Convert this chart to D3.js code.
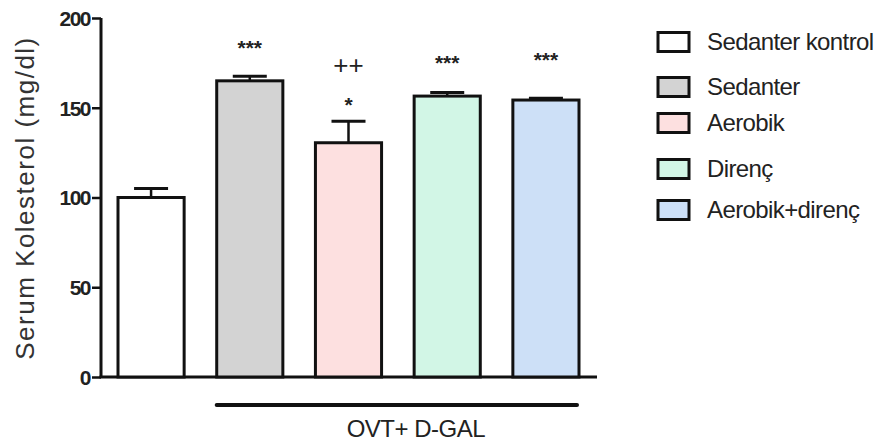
<!DOCTYPE html>
<html><head><meta charset="utf-8">
<script src="https://cdn.jsdelivr.net/npm/d3@7"></script>
<style>body{margin:0;background:#fff}svg{display:block}text{font-family:"Liberation Sans",Arial,sans-serif}</style>
</head><body><svg id="c" width="885" height="445"></svg>
<script>
const categories = ["Sedanter kontrol","Sedanter","Aerobik","Direnç","Aerobik+direnç"];
const means = [100, 165, 130.5, 156.5, 154.3];
const errors = [5, 2.5, 12, 2, 1];
const colors = ["#ffffff","#d3d3d3","#fde0e0","#d2f6e6","#cde0f7"];
const annotTop = ["", "***", "++", "***", "***"];
const annotLow = ["", "", "*", "", ""];
const yTicks = [0,50,100,150,200];
const groupLabel = "OVT+ D-GAL";
const yLabel = "Serum Kolesterol (mg/dl)";

const svg = d3.select("#c");
const x = d3.scaleBand().domain(categories).range([118, 579]).paddingInner(0.33).paddingOuter(0);
const y = d3.scaleLinear().domain([0,200]).range([377,18]);

// axes
const yAxis = d3.axisLeft(y).tickValues(yTicks).tickSize(9).tickPadding(2);
const gy = svg.append("g").attr("transform","translate(101,0)").call(yAxis);
gy.select(".domain").attr("stroke","#111").attr("stroke-width",3).attr("d","M0,"+y(0)+"V"+y(200));
gy.selectAll(".tick line").attr("stroke","#111").attr("stroke-width",2.5);
gy.selectAll(".tick text").attr("font-size",21).attr("font-weight","bold").attr("fill","#222").attr("font-family","Liberation Sans, Arial, sans-serif").attr("letter-spacing","-1.5").attr("dy","0.35em");

svg.append("line").attr("x1",99.5).attr("x2",597).attr("y1",y(0)).attr("y2",y(0)).attr("stroke","#111").attr("stroke-width",3);

// bars
const bars = svg.append("g");
categories.forEach((c,i)=>{
  const cx = x(c)+x.bandwidth()/2;
  bars.append("line").attr("x1",cx).attr("x2",cx).attr("y1",y(means[i])).attr("y2",y(means[i]+errors[i])).attr("stroke","#111").attr("stroke-width",2.5);
  bars.append("line").attr("x1",cx-17).attr("x2",cx+17).attr("y1",y(means[i]+errors[i])).attr("y2",y(means[i]+errors[i])).attr("stroke","#111").attr("stroke-width",3);
  bars.append("rect").attr("x",x(c)).attr("y",y(means[i])).attr("width",x.bandwidth()).attr("height",y(0)-y(means[i]))
    .attr("fill",colors[i]).attr("stroke","#111").attr("stroke-width",3);
});
// annotations
const topY = [0,46,65,61,58];
const lowY = [0,0,103,0,0];
categories.forEach((c,i)=>{
  const cx = x(c)+x.bandwidth()/2;
  if(annotTop[i]) {
    const pp = annotTop[i]==="++";
    svg.append("text").attr("x",cx).attr("y",topY[i]+9).attr("text-anchor","middle").attr("font-size",pp?26:21).attr("font-weight",pp?"normal":"bold").attr("fill","#222").text(annotTop[i]);
  }
  if(annotLow[i]) svg.append("text").attr("x",cx).attr("y",lowY[i]+9).attr("text-anchor","middle").attr("font-size",21).attr("font-weight","bold").attr("fill","#222").text(annotLow[i]);
});

// group bracket
svg.append("line").attr("x1",x(categories[1])).attr("x2",x(categories[4])+x.bandwidth()-2).attr("y1",405).attr("y2",405).attr("stroke","#111").attr("stroke-width",4).attr("stroke-linecap","round");
svg.append("text").attr("x",(x(categories[1])+x(categories[4])+x.bandwidth())/2+18).attr("y",437).attr("text-anchor","middle").attr("font-size",24).attr("fill","#222").attr("letter-spacing","-0.5").text(groupLabel);

// y label
svg.append("text").attr("transform","translate(34,198) rotate(-90)").attr("text-anchor","middle").attr("font-size",26).attr("fill","#333").attr("letter-spacing","1.5").text(yLabel);

// legend
const legY = [42,87,123,169,210];
const leg = svg.append("g");
categories.forEach((c,i)=>{
  leg.append("rect").attr("x",658).attr("y",legY[i]-9.5).attr("width",31).attr("height",19).attr("fill",colors[i]).attr("stroke","#111").attr("stroke-width",3);
  leg.append("text").attr("x",707).attr("y",legY[i]+8).attr("font-size",24).attr("fill","#222").attr("letter-spacing","-0.6").text(c);
});
</script></body></html>
